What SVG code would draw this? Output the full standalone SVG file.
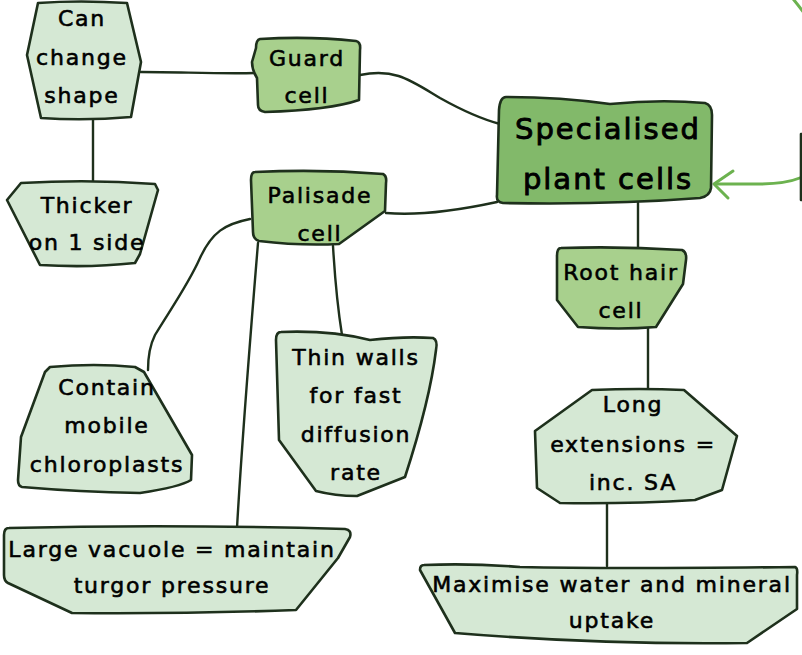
<svg xmlns="http://www.w3.org/2000/svg" width="802" height="655" viewBox="0 0 802 655">
<defs>
<style>
.n{stroke:#1e301c;stroke-width:2.6;stroke-linejoin:round}
.l{fill:#d5e8d4}
.m{fill:#a8d08d}
.k{fill:#82b96a}
.e{fill:none;stroke:#1e301c;stroke-width:2.4;stroke-linecap:round}
text{font-family:"DejaVu Sans","Liberation Sans",sans-serif;font-size:22px;letter-spacing:1.8px;fill:#000;stroke:#000;stroke-width:0.6;text-anchor:middle}
.big{font-size:29px;letter-spacing:2px;stroke-width:0.9}
</style>
</defs>
<rect width="802" height="655" fill="#fff"/>
<g id="connectors">
<path class="e" d="M141,72 C180,72 220,74 255,73"/>
<path class="e" d="M93,119 L93,181"/>
<path class="e" d="M360,75 C395,68 410,80 440,98 C465,112 485,120 500,124"/>
<path class="e" d="M386,213 C420,216 460,210 497,202"/>
<path class="e" d="M638,203 L638,249"/>
<path class="e" d="M648,328 L648,390"/>
<path class="e" d="M607,503 L607,566"/>
<path class="e" d="M250,219 C225,224 212,232 200,258 C188,285 170,310 155,335 C149,347 148,360 148,370"/>
<path class="e" d="M258,243 C250,340 242,440 237,528"/>
<path class="e" d="M333,246 C335,280 338,310 342,335"/>
<path fill="none" stroke="#6cb24f" stroke-width="3" stroke-linecap="round" d="M789,-6 C815,25 840,60 840,110 C840,160 815,184 760,184 L716,184"/>
<path fill="none" stroke="#6cb24f" stroke-width="3" stroke-linecap="round" stroke-linejoin="round" d="M733,171 L714,184 L728,198"/>
</g>
<g id="offscreen-node">
<path class="n k" d="M801,134 L812,134 L812,200 L801,200 Z"/>
</g>
<g id="can-change-shape">
<path class="n l" d="M38,3 Q80,0 127,3 L141,62 L131,117 Q85,121 41,118 L27,55 Z"/>
<text x="82" y="26">Can</text>
<text x="82" y="65">change</text>
<text x="82" y="103">shape</text>
</g>
<g id="guard-cell">
<path class="n m" d="M260,39 Q310,36 356,41 Q361,42 360,50 L359,100 Q330,110 265,112 Q258,111 258,105 L257,78 Q252,70 252,62 L256,48 Q256,40 260,39 Z"/>
<text x="307" y="66">Guard</text>
<text x="307" y="103">cell</text>
</g>
<g id="thicker">
<path class="n l" d="M21,183 Q90,179 155,184 L158,190 L140,254 L135,263 Q90,268 40,265 L7,200 Z"/>
<text x="87" y="213">Thicker</text>
<text x="87" y="250">on 1 side</text>
</g>
<g id="palisade-cell">
<path class="n m" d="M255,172 Q320,169 383,174 Q387,176 386,183 L385,211 L339,244 Q300,246 259,241 Q253,239 253,232 L251,180 Q251,172 255,172 Z"/>
<text x="320" y="203">Palisade</text>
<text x="320" y="241">cell</text>
</g>
<g id="specialised-plant-cells">
<path class="n k" d="M506,97 Q560,97 610,104 Q660,99 705,103 Q712,105 712,115 L711,188 Q710,196 700,198 Q610,205 503,203 Q496,202 497,195 L499,110 Q500,97 506,97 Z"/>
<text class="big" x="608" y="139">Specialised</text>
<text class="big" x="608" y="189">plant cells</text>
</g>
<g id="root-hair-cell">
<path class="n m" d="M561,248 Q620,246 682,250 Q687,252 686,260 L683,284 L656,327 Q620,330 578,327 L557,300 L557,256 Q557,248 561,248 Z"/>
<text x="621" y="280">Root hair</text>
<text x="621" y="318">cell</text>
</g>
<g id="long-extensions">
<path class="n l" d="M592,390 Q640,388 684,390 L737,436 L722,490 L695,500 Q630,504 560,503 L537,488 L535,431 Z"/>
<text x="633" y="412">Long</text>
<text x="633" y="452">extensions =</text>
<text x="633" y="490">inc. SA</text>
</g>
<g id="maximise">
<path class="n l" d="M424,565 Q470,563 520,567 Q610,569 795,567 Q798,568 797,575 L797,609 L747,643 Q600,645 455,633 L420,570 Q420,565 424,565 Z"/>
<text x="612" y="592">Maximise water and mineral</text>
<text x="612" y="628">uptake</text>
</g>
<g id="contain-chloroplasts">
<path class="n l" d="M50,367 Q95,363 135,367 L144,372 L192,455 L191,480 Q180,487 140,493 Q80,492 22,487 Q18,486 18,480 L21,437 L45,372 Z"/>
<text x="107" y="395">Contain</text>
<text x="107" y="433">mobile</text>
<text x="107" y="472">chloroplasts</text>
</g>
<g id="thin-walls">
<path class="n l" d="M281,332 Q330,330 370,340 Q405,336 433,338 Q438,340 436,350 Q430,400 405,477 L357,496 Q335,496 316,491 L279,440 L276,340 Q276,332 281,332 Z"/>
<text x="356" y="365">Thin walls</text>
<text x="356" y="403">for fast</text>
<text x="356" y="442">diffusion</text>
<text x="356" y="480">rate</text>
</g>
<g id="large-vacuole">
<path class="n l" d="M9,528 Q170,524 345,529 Q352,530 350,537 L338,558 L296,610 Q185,614 72,613 L8,583 Q4,581 4,575 L4,535 Q4,528 9,528 Z"/>
<text x="172" y="557">Large vacuole = maintain</text>
<text x="172" y="593">turgor pressure</text>
</g>
</svg>
